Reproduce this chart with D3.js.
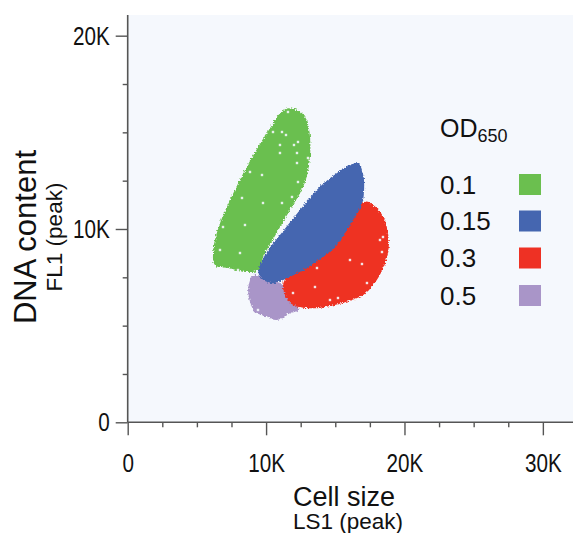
<!DOCTYPE html>
<html><head><meta charset="utf-8">
<script src="https://cdn.jsdelivr.net/npm/d3@7"></script>
<style>
body{margin:0;background:#fff;}
svg{display:block;}
</style></head>
<body><svg id="c" width="573" height="533"></svg>
<script>
// ---- data (cluster outlines, in data units) ----
const seriesNames = ["0.1", "0.15", "0.3", "0.5"];
const seriesColors = ["#6bbf4f", "#4566b0", "#ee3124", "#a995c8"];
const green = [[11604,16244],[12450,16068],[12934,15639],[13172,14775],[13172,13740],[12934,12706],[12572,12018],[11727,10983],[10766,9793],[9798,8567],[9436,7879],[8353,7791],[7392,7967],[6308,8138],[6185,8914],[6669,10295],[7514,11671],[8353,12882],[9436,14258],[10282,15210],[11004,15986]];
const blue = [[16662,13399],[17023,12794],[17074,11930],[16908,11242],[16062,10207],[15101,9172],[13656,8308],[12450,7791],[11243,7362],[10520,7191],[9798,7362],[9436,7708],[9921,8655],[11004,9690],[11965,10553],[12934,11412],[13895,12188],[15101,12882],[16062,13311]];
const red = [[17146,11412],[17746,11242],[18468,10636],[18829,9690],[18829,8826],[18468,7967],[17746,7103],[17023,6586],[15824,6239],[14379,5980],[13172,5898],[11965,6068],[11488,6415],[11243,7191],[13172,8655],[15701,10466]];
const purple = [[9075,7620],[8714,6932],[8837,6239],[9198,5722],[10043,5463],[10766,5292],[11727,5639],[12327,5810],[11488,6932],[10766,7274],[9559,7532]];
// empty (white) spots inside the clouds
const gaps = [[11582,16053],[11149,15018],[11438,14863],[10499,15018],[12305,14501],[11004,14346],[12016,14346],[11004,13932],[12233,13932],[13027,13673],[12233,13414],[8837,12949],[9704,12794],[12305,12431],[8259,11604],[9776,11345],[11149,11345],[11871,11656],[11944,10828],[6886,10103],[8475,10207],[6669,8914],[8114,8758],[7970,7879],
  [18447,9586],[18230,9431],[18374,8810],[16062,8396],[16929,8189],[13678,7982],[17290,7206],[13533,7000],[11944,6689],[14617,6327],[15195,6430],[9415,5810]];
const xTicks = [0, 10000, 20000, 30000];
const yTicks = [0, 10000, 20000];
const tickLabels = {0:"0", 10000:"10K", 20000:"20K", 30000:"30K"};
const minorStep = 2500;

// ---- chart ----
const svg = d3.select("#c");
const x = d3.scaleLinear().domain([0, 32200]).range([127.7, 573.3]);
const y = d3.scaleLinear().domain([0, 21070]).range([422.3, 15]);

const defs = svg.append("defs");
const f = defs.append("filter").attr("id","rough").attr("x","-10%").attr("y","-10%").attr("width","120%").attr("height","120%");
f.append("feTurbulence").attr("type","fractalNoise").attr("baseFrequency","0.6").attr("numOctaves","2").attr("seed","3").attr("result","n");
f.append("feDisplacementMap").attr("in","SourceGraphic").attr("in2","n").attr("scale","4").attr("xChannelSelector","R").attr("yChannelSelector","G");

svg.append("rect").attr("x", x(0)).attr("y", y(21070)).attr("width", x(32200)-x(0)).attr("height", y(0)-y(21070)).attr("fill", "#f5f8fd");

const line = d3.line().x(d=>x(d[0])).y(d=>y(d[1])).curve(d3.curveCatmullRomClosed.alpha(0.5));
const clusters = [
  {pts: green, c: seriesColors[0]},
  {pts: purple, c: seriesColors[3]},
  {pts: red, c: seriesColors[2]},
  {pts: blue, c: seriesColors[1]}
];
const g = svg.append("g").attr("filter","url(#rough)");
g.selectAll("path").data(clusters).join("path")
  .attr("d", d=>line(d.pts)).attr("fill", d=>d.c);
svg.append("g").selectAll("rect").data(gaps).join("rect")
  .attr("x", d=>x(d[0])-1.2).attr("y", d=>y(d[1])-1.2).attr("width", 2.4).attr("height", 2.4)
  .attr("fill", "#f3f6fb").attr("opacity", 0.9);

const axisColor = "#555";
const tickFont = "'Liberation Sans', Arial, sans-serif";
// minor ticks
const xMinor = d3.range(0, 32200, minorStep).filter(v=>v%10000!==0);
const yMinor = d3.range(0, 21070, minorStep).filter(v=>v%10000!==0);
const xa = svg.append("g").attr("transform", `translate(0,${y(0)})`)
  .call(d3.axisBottom(x).tickValues(xMinor).tickSize(5).tickFormat(""));
const ya = svg.append("g").attr("transform", `translate(${x(0)},0)`)
  .call(d3.axisLeft(y).tickValues(yMinor).tickSize(5).tickFormat(""));
const xM = svg.append("g").attr("transform", `translate(0,${y(0)})`)
  .call(d3.axisBottom(x).tickValues(xTicks).tickSize(13).tickPadding(18).tickFormat(d=>tickLabels[d]));
const yM = svg.append("g").attr("transform", `translate(${x(0)},0)`)
  .call(d3.axisLeft(y).tickValues(yTicks).tickSize(12).tickPadding(6).tickFormat(d=>tickLabels[d]));
[xa,ya,xM,yM].forEach(a=>{
  a.select(".domain").remove();
  a.selectAll("line").attr("stroke", axisColor).attr("stroke-width", 1.4);
  a.selectAll("text").attr("fill","#111").attr("font-size", 26.5).attr("font-family", tickFont)
    .each(function(){
      const t = d3.select(this);
      const tx = +t.attr("x") || 0, ty = +t.attr("y") || 0;
      t.attr("x", 0).attr("y", 0).attr("transform", `translate(${tx},${ty}) scale(0.78,1)`);
    });
});
svg.append("line").attr("x1", x(0)).attr("x2", 573).attr("y1", y(0)).attr("y2", y(0)).attr("stroke", axisColor).attr("stroke-width", 1.6);
svg.append("line").attr("x1", x(0)).attr("x2", x(0)).attr("y1", y(21070)).attr("y2", y(0)).attr("stroke", axisColor).attr("stroke-width", 1.6);

// axis titles
const font = "'Liberation Sans', Arial, sans-serif";
svg.append("text").attr("x", 344).attr("y", 505.5).attr("text-anchor","middle").attr("font-family", font).attr("font-size", 27).attr("fill","#111").text("Cell size");
svg.append("text").attr("x", 348).attr("y", 529).attr("text-anchor","middle").attr("font-family", font).attr("font-size", 22.5).attr("fill","#111").text("LS1 (peak)");
svg.append("text").attr("transform","translate(36,237) rotate(-90)").attr("text-anchor","middle").attr("font-family", font).attr("font-size", 31).attr("fill","#111").text("DNA content");
svg.append("text").attr("transform","translate(62,237) rotate(-90)").attr("text-anchor","middle").attr("font-family", font).attr("font-size", 22.5).attr("fill","#111").text("FL1 (peak)");

// legend
const lt = svg.append("text").attr("x", 440).attr("y", 137).attr("font-family", font).attr("font-size", 25).attr("fill","#111");
lt.append("tspan").text("OD");
lt.append("tspan").attr("font-size", 18).attr("dy", 5).text("650");
const rowY = [184.5, 221, 258, 295.5];
const lg = svg.append("g").selectAll("g").data(seriesNames).join("g")
  .attr("transform", (d,i)=>`translate(0,${rowY[i]})`);
lg.append("text").attr("x", 440).attr("y", 9.3).attr("font-family", font).attr("font-size", 26).attr("fill","#111").text(d=>d);
lg.append("rect").attr("x", 519).attr("y", -10.5).attr("width", 22).attr("height", 21).attr("fill", (d,i)=>seriesColors[i]);
</script></body></html>
